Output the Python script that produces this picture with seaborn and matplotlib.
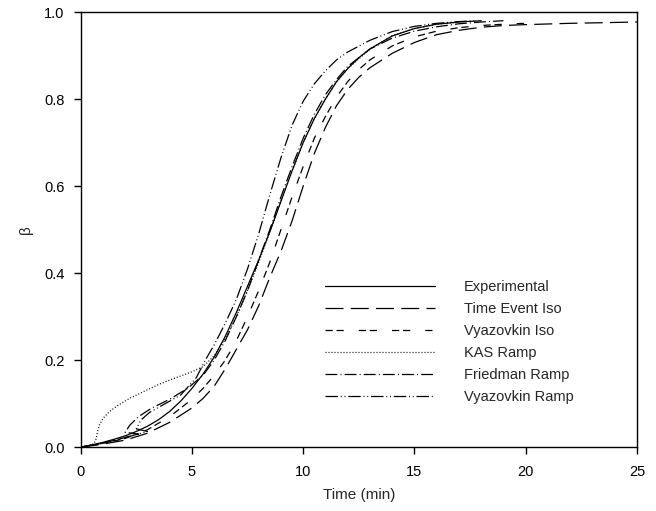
import matplotlib
matplotlib.use("Agg")
import matplotlib.pyplot as plt
import seaborn as sns
import pandas as pd

series_names = ["Experimental", "Time Event Iso", "Vyazovkin Iso",
                "KAS Ramp", "Friedman Ramp", "Vyazovkin Ramp"]

exp_t = [0, 0.5, 1, 1.5, 2, 2.5, 3, 3.5, 4, 4.5, 5, 5.5, 6, 6.5, 7, 7.5, 8, 8.5, 9, 9.5,
         10, 10.5, 11, 11.5, 12, 12.5, 13, 14, 15, 16, 17, 18]
exp_b = [0, 0.005, 0.011, 0.018, 0.026, 0.036, 0.048, 0.063, 0.082, 0.106, 0.135, 0.168,
         0.207, 0.255, 0.31, 0.37, 0.43, 0.495, 0.565, 0.635, 0.70, 0.755, 0.80, 0.84,
         0.87, 0.895, 0.915, 0.945, 0.962, 0.972, 0.977, 0.98]

te_t = [0, 1, 2, 3, 4, 5, 5.5, 6, 6.5, 7, 7.5, 8, 8.5, 9, 9.5, 10, 10.5, 11, 11.5, 12,
        12.5, 13, 14, 15, 16, 17, 18, 19, 20, 22, 25]
te_b = [0, 0.007, 0.016, 0.032, 0.057, 0.09, 0.112, 0.14, 0.18, 0.225, 0.27, 0.325,
        0.39, 0.45, 0.52, 0.60, 0.675, 0.735, 0.785, 0.822, 0.85, 0.872, 0.905, 0.93,
        0.948, 0.958, 0.965, 0.969, 0.971, 0.974, 0.977]

vi_t = [0, 1, 2, 3, 4, 5, 5.5, 6, 6.5, 7, 7.5, 8, 8.5, 9, 9.5, 10, 10.5, 11, 11.5, 12,
        12.5, 13, 14, 15, 16, 17, 18, 19, 20]
vi_b = [0, 0.008, 0.02, 0.04, 0.07, 0.11, 0.135, 0.165, 0.2, 0.245, 0.3, 0.36, 0.425,
        0.5, 0.575, 0.645, 0.71, 0.76, 0.805, 0.84, 0.868, 0.89, 0.922, 0.943, 0.956,
        0.964, 0.969, 0.972, 0.974]

kas_t = [0, 0.3, 0.6, 0.7, 0.75, 0.85, 1.0, 1.3, 1.7, 2.2, 2.8, 3.5, 4.2, 5.0, 5.5, 6,
         6.5, 7, 7.5, 8, 8.5, 9, 9.5, 10, 10.5, 11, 11.5, 12, 13, 14, 15, 16, 17]
kas_b = [0, 0.003, 0.008, 0.02, 0.035, 0.052, 0.066, 0.082, 0.097, 0.112, 0.127, 0.144,
         0.158, 0.173, 0.185, 0.21, 0.25, 0.30, 0.36, 0.425, 0.495, 0.565, 0.635, 0.70,
         0.755, 0.80, 0.84, 0.87, 0.915, 0.945, 0.962, 0.972, 0.977]

fr_t = [0, 1, 2, 2.6, 2.0, 2.2, 2.6, 3.2, 4.0, 4.8, 5.5, 6, 6.5, 7, 7.5, 8, 8.5, 9, 9.5,
        10, 10.5, 11, 11.5, 12, 13, 14, 15, 16, 17, 18, 19]
fr_b = [0, 0.009, 0.022, 0.03, 0.034, 0.05, 0.07, 0.09, 0.11, 0.135, 0.165, 0.2, 0.245,
        0.3, 0.36, 0.43, 0.5, 0.575, 0.645, 0.71, 0.765, 0.81, 0.845, 0.875, 0.915, 0.94,
        0.956, 0.966, 0.973, 0.977, 0.98]

vr_t = [0, 1, 2, 3.0, 2.5, 2.7, 3.1, 3.8, 4.5, 5.2, 5.6, 6, 6.5, 7, 7.5, 8, 8.5, 9, 9.5,
        10, 10.5, 11, 11.5, 12, 13, 14, 15, 16, 17, 17.8]
vr_b = [0, 0.009, 0.022, 0.036, 0.042, 0.062, 0.08, 0.1, 0.12, 0.16, 0.2, 0.235, 0.285,
        0.34, 0.41, 0.49, 0.58, 0.665, 0.74, 0.795, 0.835, 0.865, 0.89, 0.908, 0.935,
        0.955, 0.967, 0.974, 0.978, 0.98]

x_ticks = [0, 5, 10, 15, 20, 25]
y_ticks = [0.0, 0.2, 0.4, 0.6, 0.8, 1.0]

all_t = [exp_t, te_t, vi_t, kas_t, fr_t, vr_t]
all_b = [exp_b, te_b, vi_b, kas_b, fr_b, vr_b]
frames = []
for name, t, b in zip(series_names, all_t, all_b):
    frames.append(pd.DataFrame({"t": t, "b": b, "series": name}))
df = pd.concat(frames, ignore_index=True)

sns.set_theme(style="ticks")
plt.rcParams["font.family"] = ["Liberation Sans", "DejaVu Sans"]

dash_map = {
    "Experimental": "",
    "Time Event Iso": (14.4, 5.8),
    "Vyazovkin Iso": (5.8, 3.0, 5.8, 12.0),
    "KAS Ramp": (0.8, 1.6),
    "Friedman Ramp": (9.5, 2.5, 0.8, 2.5),
    "Vyazovkin Ramp": (10.0, 2.2, 0.8, 2.2, 0.8, 2.2),
}

fig = plt.figure(figsize=(6.56, 5.11), dpi=100)
ax = fig.add_axes([0.123, 0.125, 0.848, 0.8515])

sns.lineplot(data=df, x="t", y="b", style="series", style_order=series_names,
             dashes=dash_map, color="black", linewidth=0.9, sort=False,
             estimator=None, ax=ax, legend=False)

ax.set_xlim(0, 25)
ax.set_ylim(0, 1.0)
ax.set_xticks(x_ticks)
ax.set_xticklabels([str(v) for v in x_ticks])
ax.set_yticks(y_ticks)
ax.set_yticklabels([f"{v:.1f}" for v in y_ticks])
ax.tick_params(axis="both", direction="out", length=5, width=1, labelsize=10.5,
               colors="black", top=False, right=False)
ax.tick_params(axis="x", pad=8)
ax.tick_params(axis="y", pad=6.5)
for sp in ax.spines.values():
    sp.set_visible(True)
    sp.set_color("black")
    sp.set_linewidth(1)
ax.set_xlabel("Time (min)", fontsize=11, labelpad=6)
ax.set_ylabel("β", fontsize=11, labelpad=8)

leg = ax.legend(handles=ax.lines[:6], labels=series_names, loc="upper left",
                bbox_to_anchor=(0.44, 0.384), frameon=False, fontsize=10.5,
                handlelength=7.5, handletextpad=2.0, labelspacing=0.55,
                borderpad=0, borderaxespad=0)

fig.savefig("out.png", dpi=100)
